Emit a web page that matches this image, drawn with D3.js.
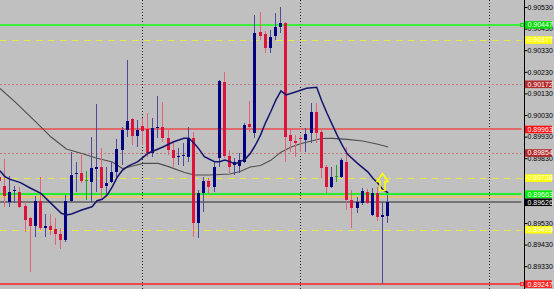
<!DOCTYPE html>
<html>
<head>
<meta charset="utf-8">
<script src="https://cdn.jsdelivr.net/npm/d3@7"></script>
<style>
  html, body { margin: 0; padding: 0; background: #c0c0c0; overflow: hidden; }
  svg { display: block; }
  text { font-family: "Liberation Sans", Arial, sans-serif; }
</style>
</head>
<body>
<svg id="chart"></svg>
<script>
const W = 554, H = 289

// bars, oldest first
const open = [0.89743,0.89701,0.89627,0.89676,0.89673,0.89609,0.89553,0.89514,0.89630,0.89509,
  0.89518,0.89502,0.89481,0.89451,0.89630,0.89755,0.89760,0.89729,0.89721,0.89781,
  0.89791,0.89701,0.89718,0.89767,0.89868,0.89960,0.90010,0.89931,0.89979,0.89964,
  0.89855,0.89968,0.89976,0.89922,0.89868,0.89834,0.89838,0.89837,0.89922,0.89529,
  0.89667,0.89724,0.89698,0.89830,0.90184,0.89842,0.89798,0.89796,0.89814,0.89987,
  0.89947,0.90416,0.90404,0.90339,0.90396,0.90439,0.90455,0.89937,0.89911,0.89924,
  0.89914,0.89945,0.90045,0.89953,0.89791,0.89698,0.89749,0.89744,0.89814,0.89636,
  0.89598,0.89623,0.89675,0.89567,0.89669,0.89558,0.89562]
const high = [0.89757,0.89826,0.89748,0.89701,0.89697,0.89627,0.89560,0.89653,0.89741,0.89572,
  0.89572,0.89553,0.89507,0.89660,0.89861,0.89812,0.89845,0.89771,0.89930,0.90080,
  0.89876,0.89791,0.89814,0.89919,0.89976,0.90285,0.90018,0.90007,0.90016,0.90038,
  0.90015,0.90118,0.90092,0.89960,0.89906,0.89876,0.89900,0.89976,0.89953,0.89683,
  0.89744,0.89737,0.89814,0.90192,0.90230,0.89868,0.89830,0.89853,0.89992,0.90095,
  0.90493,0.90505,0.90419,0.90424,0.90501,0.90529,0.90461,0.89968,0.89937,0.89937,
  0.89968,0.90084,0.90084,0.89960,0.89798,0.89791,0.89798,0.89830,0.89883,0.89683,
  0.89652,0.89691,0.89687,0.89691,0.89698,0.89629,0.89660]
const low = [0.89710,0.89604,0.89604,0.89623,0.89599,0.89488,0.89305,0.89467,0.89498,0.89467,
  0.89474,0.89428,0.89410,0.89444,0.89629,0.89675,0.89714,0.89636,0.89629,0.89675,
  0.89644,0.89660,0.89714,0.89744,0.89798,0.89930,0.89889,0.89884,0.89891,0.89837,
  0.89837,0.89922,0.89906,0.89845,0.89791,0.89798,0.89792,0.89814,0.89467,0.89459,
  0.89582,0.89663,0.89675,0.89791,0.89830,0.89760,0.89752,0.89760,0.89806,0.89953,
  0.89924,0.90377,0.90319,0.90316,0.90377,0.90410,0.89814,0.89860,0.89837,0.89860,
  0.89860,0.89899,0.89899,0.89737,0.89667,0.89691,0.89721,0.89737,0.89590,0.89505,
  0.89575,0.89613,0.89618,0.89562,0.89539,0.89247,0.89529]
const close = [0.89724,0.89655,0.89673,0.89683,0.89606,0.89544,0.89514,0.89630,0.89509,0.89518,
  0.89498,0.89477,0.89449,0.89630,0.89750,0.89763,0.89724,0.89729,0.89783,0.89789,
  0.89691,0.89717,0.89767,0.89871,0.89960,0.90004,0.89931,0.89960,0.89958,0.89853,
  0.89968,0.89976,0.89922,0.89868,0.89830,0.89840,0.89847,0.89922,0.89529,0.89667,
  0.89726,0.89698,0.89791,0.90187,0.89840,0.89791,0.89814,0.89822,0.89984,0.89973,
  0.90408,0.90397,0.90342,0.90392,0.90436,0.90457,0.89930,0.89911,0.89899,0.89917,
  0.89942,0.90045,0.89948,0.89783,0.89698,0.89744,0.89749,0.89822,0.89636,0.89598,
  0.89629,0.89679,0.89621,0.89670,0.89559,0.89565,0.89626]

// fast MA (navy), read at bar indices
const fastIdx = [0,1,2,4,6,8,10,12,13,14,16,18,19,20,21,22,23,24,25,27,29,32,34,36,37,38,39,40,42,43,
  44,45,46,47,48,49,50,51,52,53,54,55,56,58,60,62,63,64,65,66,67,68,70,72,73,74,75,76]
const fastVal = [0.89772,0.89744,0.89732,0.89717,0.89691,0.89667,0.89621,0.89575,0.89567,0.89572,
  0.89590,0.89605,0.89633,0.89640,0.89660,0.89698,0.89744,0.89775,0.89792,0.89814,
  0.89853,0.89883,0.89906,0.89922,0.89922,0.89899,0.89871,0.89837,0.89814,0.89814,
  0.89822,0.89814,0.89803,0.89814,0.89826,0.89852,0.89890,0.89937,0.89995,0.90045,
  0.90099,0.90142,0.90123,0.90138,0.90154,0.90158,0.90095,0.90039,0.89988,0.89937,
  0.89891,0.89849,0.89806,0.89767,0.89737,0.89714,0.89683,0.89670]

// slow MA (grey)
const slowIdx = [0,3,7,10,13,16,19,22,24,26,28,31,33,36,38,41,45,47,49,51,53,55,57,59,61,63,65,68,71,74,76]
const slowVal = [0.90153,0.90090,0.89998,0.89928,0.89873,0.89852,0.89830,0.89812,0.89782,0.89794,
  0.89806,0.89806,0.89791,0.89765,0.89752,0.89752,0.89757,0.89768,0.89789,0.89796,
  0.89820,0.89858,0.89882,0.89898,0.89910,0.89921,0.89922,0.89917,0.89910,0.89895,0.89882]

// horizontal levels
const levelPrices = [0.90447, 0.90377, 0.90172, 0.89963, 0.89854, 0.89738, 0.89663, 0.89650, 0.89626, 0.89499, 0.89247]
const levelKinds = ['green', 'yellow', 'dot', 'red', 'dot', 'yellow', 'green2', 'tan', 'bid', 'yellow', 'low']

const tickValues = [0.90530,0.90430,0.90330,0.90230,0.90130,0.90030,0.89930,0.89830,0.89730,0.89630,0.89530,0.89430,0.89330]

// period separators (bar index)
const separators = [28, 59, 96]

// up arrow object
const arrowIdx = [75]
const arrowPrice = [0.89759]

const styles = {
  green:  { stroke: '#10ff10', w: 1.5, dash: null, box: '#00dd00', mark: true },
  yellow: { stroke: '#e6e64a', w: 1, dash: '7,5', box: '#ffff00' },
  dot:    { stroke: '#c27a7a', w: 1, dash: '2,2', box: '#b32a2a' },
  red:    { stroke: '#e06a6a', w: 2, dash: null, box: '#ff1010' },
  green2: { stroke: '#22f022', w: 2, dash: null, box: '#00ee00' },
  tan:    { stroke: '#e6c272', w: 2, dash: null, box: null },
  bid:    { stroke: '#747474', w: 2, dash: null, box: '#000000' },
  low:    { stroke: '#ff2020', w: 1.5, dash: null, box: '#ff2020', mark: true }
}

const svg = d3.select('#chart').attr('width', W).attr('height', H)
svg.append('rect').attr('width', W).attr('height', H).attr('fill', '#c0c0c0')

const x = d3.scaleLinear().domain([0, 76]).range([-0.5, 387.7])
const y = d3.scaleLinear().domain([0.89330, 0.90530]).range([266.2, 7])
const axisX = 524.5
const px = i => Math.floor(x(i)) + 0.5

// separators
svg.append('g').selectAll('line')
  .data(separators)
  .join('line')
  .attr('x1', d => Math.floor(x(d)) + 0.5)
  .attr('x2', d => Math.floor(x(d)) + 0.5)
  .attr('y1', 0).attr('y2', H)
  .attr('stroke', '#222')
  .attr('stroke-dasharray', '1,2')
  .style('shape-rendering', 'crispEdges')

// levels
const levels = levelPrices.map((p, k) => ({ p, s: styles[levelKinds[k]] }))
svg.append('g').selectAll('line')
  .data(levels)
  .join('line')
  .attr('x1', 0).attr('x2', axisX - 3)
  .attr('y1', d => Math.round(y(d.p)) + (d.s.w === 1 ? 0.5 : 0))
  .attr('y2', d => Math.round(y(d.p)) + (d.s.w === 1 ? 0.5 : 0))
  .attr('stroke', d => d.s.stroke)
  .attr('stroke-width', d => d.s.w)
  .attr('stroke-dasharray', d => d.s.dash)

// moving averages
const line = d3.line().x(d => x(d[0]) + 0.5).y(d => y(d[1]))
svg.append('path')
  .datum(slowIdx.map((d, k) => [d, slowVal[k]]))
  .attr('d', line)
  .attr('fill', 'none')
  .attr('stroke', '#4e4e4e')
  .attr('stroke-width', 1.1)

// candles
const bars = open.map((o, i) => ({ i, o, h: high[i], l: low[i], c: close[i] }))
const wickColor = d => d.c > d.o ? '#4c4c98' : d.c < d.o ? '#e2627c' : '#20a020'
const bodyColor = d => d.c > d.o ? '#000080' : d.c < d.o ? '#dc143c' : '#20a020'

const cg = svg.append('g').style('shape-rendering', 'crispEdges')
cg.selectAll('line')
  .data(bars)
  .join('line')
  .attr('x1', d => px(d.i)).attr('x2', d => px(d.i))
  .attr('y1', d => y(d.h)).attr('y2', d => y(d.l))
  .attr('stroke', wickColor)
  .attr('stroke-width', 1)

cg.selectAll('rect')
  .data(bars)
  .join('rect')
  .attr('x', d => Math.floor(x(d.i)) - 1)
  .attr('width', 3)
  .attr('y', d => y(Math.max(d.o, d.c)))
  .attr('height', d => Math.max(1, Math.abs(y(d.o) - y(d.c))))
  .attr('fill', bodyColor)

svg.append('path')
  .datum(fastIdx.map((d, k) => [d, fastVal[k]]))
  .attr('d', line)
  .attr('fill', 'none')
  .attr('stroke', '#14146e')
  .attr('stroke-width', 1.5)

// arrow
svg.append('g').selectAll('path')
  .data(arrowIdx.map((d, k) => [d, arrowPrice[k]]))
  .join('path')
  .attr('transform', d => `translate(${px(d[0])},${y(d[1])})`)
  .attr('d', 'M0,0L5.5,8L2.5,8L2.5,17L-2.5,17L-2.5,8L-5.5,8Z')
  .attr('fill', 'none')
  .attr('stroke', '#ffff00')
  .attr('stroke-width', 1.5)

// price axis
svg.append('line')
  .attr('x1', axisX).attr('x2', axisX)
  .attr('y1', 0).attr('y2', H)
  .attr('stroke', '#000')
  .style('shape-rendering', 'crispEdges')

const levels_boxed = levels.filter(d => d.s.box)
// labels fully under a level box are not drawn (box covers them)
const covered = t => levels_boxed.some(d => Math.abs(y(d.p) - y(t)) < 2.5)

const axis = d3.axisRight(y)
  .tickValues(tickValues)
  .tickFormat(d => covered(d) ? '' : d3.format('.5f')(d))
  .tickSize(3)
  .tickPadding(0)

const ag = svg.append('g')
  .attr('transform', `translate(${axisX},0)`)
  .call(axis)
ag.select('.domain').remove()
ag.selectAll('.tick line').attr('stroke', '#000')
ag.selectAll('.tick text')
  .attr('fill', '#000')
  .style('font-size', '7px')
  .style('font-family', '"Liberation Sans", Arial, sans-serif')

// level price boxes
const bg = svg.append('g')
bg.selectAll('rect.box')
  .data(levels_boxed)
  .join('rect')
  .attr('class', 'box')
  .attr('x', axisX + 0.5)
  .attr('y', d => y(d.p) - 3.8)
  .attr('width', 27)
  .attr('height', 7.6)
  .attr('fill', d => d.s.box)

bg.selectAll('rect.mark')
  .data(levels_boxed.filter(d => d.s.mark))
  .join('rect')
  .attr('class', 'mark')
  .attr('x', axisX - 4)
  .attr('y', d => y(d.p) - 1.5)
  .attr('width', 3).attr('height', 3)
  .attr('fill', 'none')
  .attr('stroke', d => d.s.box)

bg.selectAll('text')
  .data(levels_boxed)
  .join('text')
  .attr('x', axisX + 3)
  .attr('y', d => y(d.p))
  .attr('dy', '0.34em')
  .attr('fill', '#fff')
  .style('font-size', '7px')
  .text(d => d3.format('.5f')(d.p))
</script>
</body>
</html>
